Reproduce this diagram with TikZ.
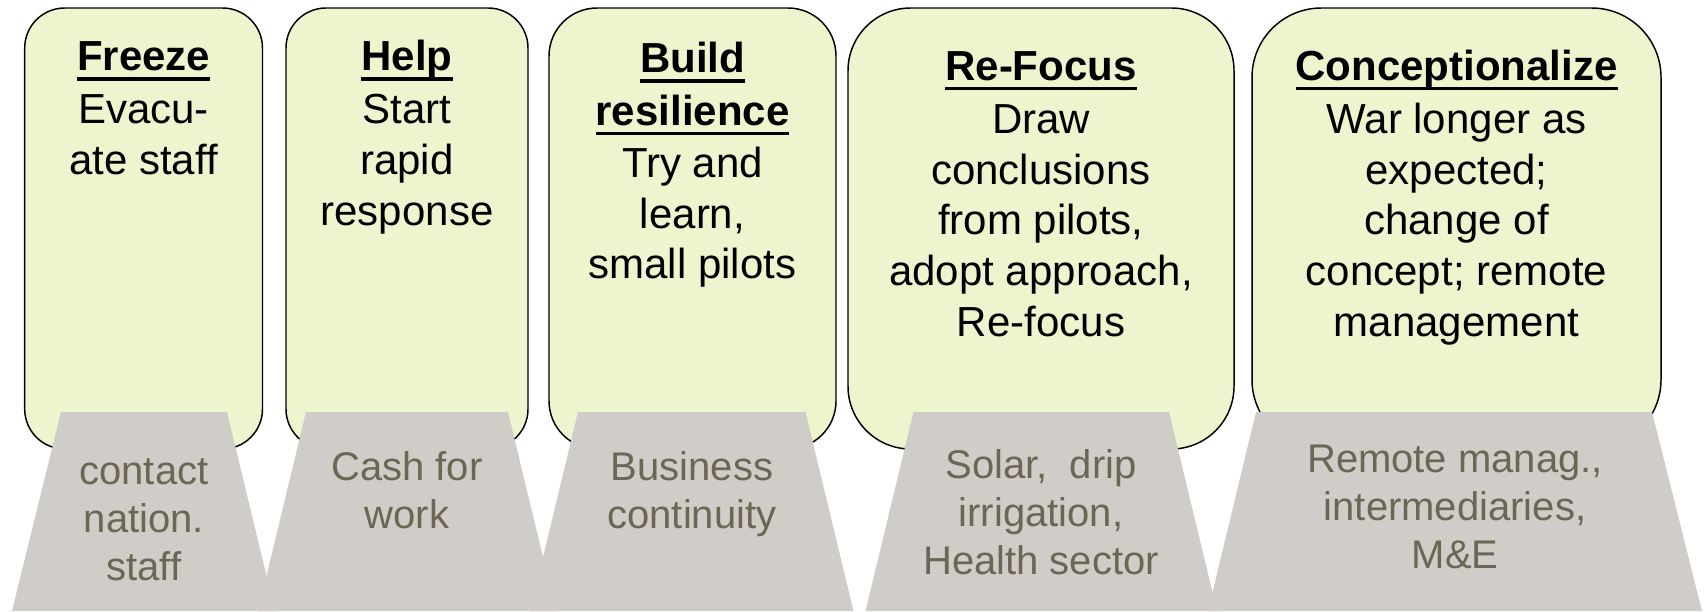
\documentclass[tikz,border=0pt]{standalone}
\usepackage{fontspec}
\setmainfont{Liberation Sans}
\definecolor{boxgreen}{RGB}{236,245,205}
\definecolor{tzgray}{RGB}{208,204,199}
\definecolor{tztext}{RGB}{108,102,84}
\newcommand\tul[1]{\setbox0=\hbox{#1}\rlap{\rule[-0.24em]{\wd0}{0.085em}}\box0}
\tikzset{
 gbox/.style={draw=black, fill=boxgreen, line width=1.1pt},
 tzshape/.style={fill=tzgray},
 toptext/.style={anchor=base, align=center, inner sep=0pt, font=\fontsize{31.5}{38.1}\selectfont},
 bottext/.style={anchor=base, align=center, inner sep=0pt, text=tztext, font=\fontsize{30}{36}\selectfont},
}
\begin{document}
\begin{tikzpicture}[x=0.75pt,y=-0.75pt]
\useasboundingbox (0,0) rectangle (1708,611);
% green boxes
\draw[gbox, rounded corners=30pt] (24.7,8) rectangle (262.5,449);
\draw[gbox, rounded corners=30pt] (286,8) rectangle (528,449);
\draw[gbox, rounded corners=36pt] (549,8) rectangle (836,449);
\draw[gbox, rounded corners=47pt] (848,8) rectangle (1234,449);
\draw[gbox, rounded corners=52pt] (1252,8) rectangle (1661,449);
% trapezoids
\fill[tzshape] (61,412) -- (227,412) -- (275,611) -- (12,611) -- cycle;
\fill[tzshape] (306,412) -- (508,412) -- (556,611) -- (258,611) -- cycle;
\fill[tzshape] (578,412) -- (805.5,412) -- (853.5,611) -- (530,611) -- cycle;
\fill[tzshape] (913.5,412) -- (1169,412) -- (1217,611) -- (865.5,611) -- cycle;
\fill[tzshape] (1256,412) -- (1652,412) -- (1702,611) -- (1208,611) -- cycle;
% top texts (anchored at the baseline of the last line)
\node[toptext] (t1) at (143.6,174.5) {\tul{\bfseries Freeze}\\[1.8pt]Evacu-\\ate staff};
\node[toptext] (t2) at (407,225.3) {\tul{\bfseries Help}\\[1.8pt]Start\\rapid\\response};
\node[toptext] (t3) at (692.5,278.8) {\tul{\bfseries Build}\\[1pt]\tul{\bfseries resilience}\\[1pt]Try and\\learn,\\small pilots};
\node[toptext] (t4) at (1041,336.5) {\tul{\bfseries Re-Focus}\\[1.8pt]Draw\\conclusions\\from pilots,\\adopt approach,\\Re-focus};
\node[toptext] (t5) at (1456.5,336.5) {\tul{\bfseries Conceptionalize}\\[1.8pt]War longer as\\expected;\\change of\\concept; remote\\management};
% bottom texts
\node[bottext] (b1) at (144,580) {contact\\nation.\\staff};
\node[bottext] (b2) at (407,528.7) {Cash for\\work};
\node[bottext] (b3) at (692,528) {Business\\continuity};
\node[bottext] (b4) at (1041,574.6) {Solar,~ drip\\irrigation,\\Health sector};
\node[bottext] (b5) at (1455,568) {Remote manag.,\\intermediaries,\\M\&E};
\end{tikzpicture}
\end{document}
